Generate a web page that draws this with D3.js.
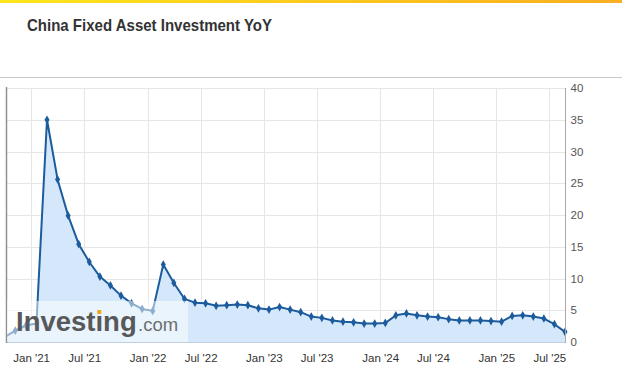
<!DOCTYPE html>
<html><head><meta charset="utf-8">
<script src="https://cdn.jsdelivr.net/npm/d3@7/dist/d3.min.js"></script>
<style>body{margin:0;background:#fff;overflow:hidden} svg{display:block}</style>
</head><body>
<svg id="c" width="622" height="392"></svg>
<script>
// Release dates of each reading (ordinal axis: points equally spaced)
const releaseDates = [
  "2020-10-19","2020-11-16","2020-12-15","2021-01-18",
  "2021-03-15","2021-04-16","2021-05-17","2021-06-16","2021-07-15","2021-08-16","2021-09-15","2021-10-18","2021-11-15","2021-12-15","2022-01-17",
  "2022-03-15","2022-04-18","2022-05-16","2022-06-15","2022-07-15","2022-08-15","2022-09-16","2022-10-24","2022-11-15","2022-12-15","2023-01-17",
  "2023-03-15","2023-04-18","2023-05-16","2023-06-15","2023-07-17","2023-08-15","2023-09-15","2023-10-18","2023-11-15","2023-12-15","2024-01-17",
  "2024-03-18","2024-04-16","2024-05-17","2024-06-17","2024-07-15","2024-08-15","2024-09-14","2024-10-18","2024-11-15","2024-12-16","2025-01-17",
  "2025-03-17","2025-04-16","2025-05-19","2025-06-16","2025-07-15","2025-08-15"
];
const values = [
  0.8, 1.8, 2.6, 2.9,
  35.0, 25.6, 19.9, 15.4, 12.6, 10.3, 8.9, 7.3, 6.1, 5.2, 4.9,
  12.2, 9.3, 6.8, 6.2, 6.1, 5.7, 5.8, 5.9, 5.8, 5.3, 5.1,
  5.5, 5.1, 4.7, 4.0, 3.8, 3.4, 3.2, 3.1, 2.9, 2.9, 3.0,
  4.2, 4.5, 4.2, 4.0, 3.9, 3.6, 3.4, 3.4, 3.4, 3.3, 3.2,
  4.1, 4.2, 4.0, 3.7, 2.8, 1.6
];
const tickDates = ["2021-01-01","2021-07-01","2022-01-01","2022-07-01","2023-01-01","2023-07-01","2024-01-01","2024-07-01","2025-01-01","2025-07-01"];
const yTicks = [0, 5, 10, 15, 20, 25, 30, 35, 40];
const title = "China Fixed Asset Investment YoY";

const svg = d3.select("#c");
const parse = d3.timeParse("%Y-%m-%d");
const rd = releaseDates.map(parse);
const fmt = d3.timeFormat("%b '%y");
// ordinal position of an arbitrary date, interpolated between neighbouring points
function ordinalIndex(t) {
  const i = d3.bisectRight(rd, t) - 1;
  return i + (t - rd[i]) / (rd[i + 1] - rd[i]);
}
const data = values.map((v, i) => ({i, v}));

const L = 7, R = 565, T = 88, B = 342;
const x = d3.scaleLinear().domain([0.216, values.length - 1]).range([L, R]);
const y = d3.scaleLinear().domain([0, 40]).range([B, T]);

// top gradient bar
const defs = svg.append("defs");
const g1 = defs.append("linearGradient").attr("id", "bar");
g1.append("stop").attr("offset", "0%").attr("stop-color", "#ffe61c");
g1.append("stop").attr("offset", "100%").attr("stop-color", "#f8ae20");
svg.append("rect").attr("x", 0).attr("y", 0).attr("width", 622).attr("height", 3).attr("fill", "url(#bar)");
defs.append("clipPath").attr("id", "clip").append("rect")
  .attr("x", L).attr("y", T - 5).attr("width", R - L + 10).attr("height", B - T + 10);

// title
svg.append("text").attr("x", 27).attr("y", 31)
  .attr("font-family", "Liberation Sans, Arial, sans-serif").attr("font-weight", "bold")
  .attr("font-size", 17).attr("fill", "#333")
  .attr("textLength", 245).attr("lengthAdjust", "spacingAndGlyphs").text(title);

// separator
svg.append("line").attr("x1", 0).attr("x2", 622).attr("y1", 77.5).attr("y2", 77.5)
  .attr("stroke", "#c8c8c8").attr("stroke-width", 1);

// grids
const tickIdx = tickDates.map(d => ordinalIndex(parse(d)));
svg.append("g").selectAll("line.h").data(yTicks.filter(d => d > 0)).join("line")
  .attr("x1", L).attr("x2", R).attr("y1", d => Math.round(y(d)) + 0.5).attr("y2", d => Math.round(y(d)) + 0.5)
  .attr("stroke", "#e6e6e6");
svg.append("g").selectAll("line.v").data(tickIdx).join("line")
  .attr("x1", d => Math.round(x(d)) + 0.5).attr("x2", d => Math.round(x(d)) + 0.5).attr("y1", T).attr("y2", B)
  .attr("stroke", "#e6e6e6");

// series
const plot = svg.append("g").attr("clip-path", "url(#clip)");
const area = d3.area().x(d => x(d.i)).y0(y(0)).y1(d => y(d.v));
const line = d3.line().x(d => x(d.i)).y(d => y(d.v));
plot.append("path").datum(data).attr("d", area).attr("fill", "#d5e8fb");
plot.append("path").datum(data).attr("d", line).attr("fill", "none")
  .attr("stroke", "#1c5c9c").attr("stroke-width", 2).attr("stroke-linejoin", "round");
const sym = d3.symbol().type(d3.symbolDiamond).size(22);
plot.selectAll("path.m").data(data).join("path")
  .attr("transform", d => `translate(${x(d.i)},${y(d.v)})`).attr("d", sym).attr("fill", "#1c5c9c");

// axis lines
svg.append("line").attr("x1", L).attr("x2", R + 0.5).attr("y1", B + 0.5).attr("y2", B + 0.5).attr("stroke", "#c0d0e0");
svg.append("line").attr("x1", L - 0.5).attr("x2", L - 0.5).attr("y1", T - 1).attr("y2", B + 1).attr("stroke", "#909090").attr("stroke-width", 1.5);
svg.append("line").attr("x1", R + 0.5).attr("x2", R + 0.5).attr("y1", T).attr("y2", B + 1).attr("stroke", "#a8a8a8");

// axes labels
const ya = svg.append("g").attr("transform", `translate(${R + 0.5},0)`)
  .call(d3.axisRight(y).tickValues(yTicks).tickSize(0).tickPadding(5));
ya.select(".domain").remove();
ya.selectAll("text").attr("font-family", "Liberation Sans, Arial, sans-serif").attr("font-size", 11.5).attr("fill", "#555");

const xa = svg.append("g").attr("transform", `translate(0,${B})`)
  .call(d3.axisBottom(x).tickValues(tickIdx).tickSize(0).tickPadding(12).tickFormat((d, i) => fmt(parse(tickDates[i]))));
xa.select(".domain").remove();
xa.selectAll("text").attr("font-family", "Liberation Sans, Arial, sans-serif").attr("font-size", 11.5).attr("fill", "#333");

// watermark
svg.append("rect").attr("x", L).attr("y", 301).attr("width", 181).attr("height", B - 301)
  .attr("fill", "#fff").attr("opacity", 0.5);
const wm = svg.append("text").attr("x", 16).attr("y", 331)
  .attr("font-family", "Liberation Sans, Arial, sans-serif").attr("font-weight", "bold")
  .attr("font-size", 27.5).attr("fill", "#58585a").text("Investıng");
svg.append("text").attr("x", 138).attr("y", 331)
  .attr("font-family", "Liberation Sans, Arial, sans-serif")
  .attr("font-size", 18.5).attr("fill", "#6d6e70").text(".com");
try {
  const ext = wm.node().getExtentOfChar(6);
  const cx = ext.x + ext.width / 2;
  svg.append("rect").attr("x", cx - 2).attr("y", 310).attr("width", 4).attr("height", 4).attr("fill", "#f5a31c");
} catch (e) {}
</script>
</body></html>
